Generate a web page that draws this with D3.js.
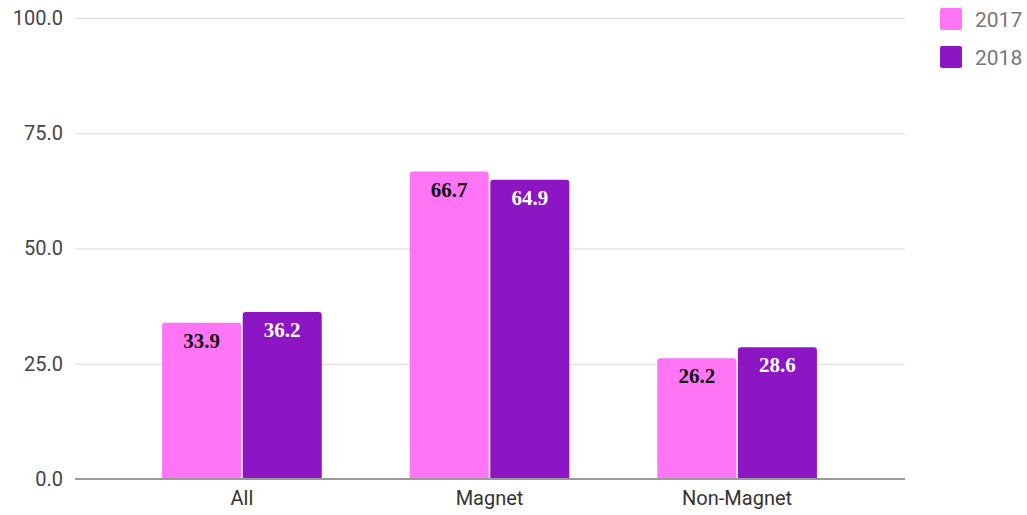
<!DOCTYPE html>
<html>
<head>
<meta charset="utf-8">
<script src="https://cdn.jsdelivr.net/npm/d3@7"></script>
<style>
  body { margin: 0; background: #fff; }
  svg { display: block; font-family: Roboto, 'Noto Sans', sans-serif; }
</style>
</head>
<body>
<div id="chart"></div>
<script>
const categories = ['All', 'Magnet', 'Non-Magnet']
const seriesNames = ['2017', '2018']
const values2017 = [33.9, 66.7, 26.2]
const values2018 = [36.2, 64.9, 28.6]
const yTicks = [0, 25, 50, 75, 100]

const width = 1027
const height = 515
const colors = { '2017': '#ff75f6', '2018': '#8c15c4' }
const labelColors = { '2017': '#111', '2018': '#fff' }

let svg = d3.select('#chart')
            .append('svg')
            .attr('width', width)
            .attr('height', height)

// Scales
let yScale = d3.scaleLinear()
    .domain([0, 100])
    .range([479, 18])

let xScale = d3.scaleBand()
    .domain(categories)
    .range([118, 861])
    .paddingInner(0.355)
    .paddingOuter(0.178)

let innerScale = d3.scaleBand()
    .domain(seriesNames)
    .range([0, xScale.bandwidth()])
    .paddingInner(0.02)

// Gridlines + y labels
let yAxis = d3.axisLeft(yScale)
    .tickValues(yTicks)
    .tickSize(-(905 - 75))
    .tickPadding(12)
    .tickFormat(d3.format('.1f'))

let yg = svg.append('g')
    .attr('transform', 'translate(75,0)')
    .call(yAxis)
yg.select('.domain').remove()
yg.selectAll('.tick line').attr('stroke', '#d9d9d9').attr('stroke-width', 1.2)
yg.selectAll('.tick text')
    .attr('fill', '#444')
    .attr('font-size', '20px')
    .attr('font-family', 'Roboto, sans-serif')

// Bars
let data = []
categories.forEach((c, i) => {
    data.push({ cat: c, series: '2017', value: values2017[i] })
    data.push({ cat: c, series: '2018', value: values2018[i] })
})

const r = 3
const barPath = (d) => {
    let x0 = xScale(d.cat) + innerScale(d.series)
    let w = innerScale.bandwidth()
    let y0 = yScale(d.value)
    let y1 = yScale(0)
    return `M${x0},${y1} V${y0 + r} Q${x0},${y0} ${x0 + r},${y0} H${x0 + w - r} Q${x0 + w},${y0} ${x0 + w},${y0 + r} V${y1} Z`
}

svg.append('g').selectAll('path')
    .data(data)
    .enter()
    .append('path')
    .attr('d', barPath)
    .attr('fill', (d) => colors[d.series])

// Value labels
svg.append('g').selectAll('text')
    .data(data)
    .enter()
    .append('text')
    .attr('x', (d) => xScale(d.cat) + innerScale(d.series) + innerScale.bandwidth() / 2)
    .attr('y', (d) => yScale(d.value) + 25)
    .attr('text-anchor', 'middle')
    .attr('font-family', "'Liberation Serif', 'DejaVu Serif', serif")
    .attr('font-weight', 'bold')
    .attr('font-size', '21px')
    .attr('fill', (d) => labelColors[d.series])
    .text((d) => d.value.toFixed(1))

// Baseline
svg.append('line')
    .attr('x1', 75).attr('x2', 905)
    .attr('y1', yScale(0)).attr('y2', yScale(0))
    .attr('stroke', '#999')
    .attr('stroke-width', 2)

// x labels
let xAxis = d3.axisBottom(xScale).tickSize(0).tickPadding(12)
let xg = svg.append('g')
    .attr('transform', 'translate(0,' + yScale(0) + ')')
    .call(xAxis)
xg.select('.domain').remove()
xg.selectAll('.tick text')
    .attr('fill', '#333')
    .attr('font-size', '20px')
    .attr('font-family', 'Roboto, sans-serif')

// Legend
let legend = svg.append('g').selectAll('g')
    .data(seriesNames)
    .enter()
    .append('g')
    .attr('transform', (d, i) => 'translate(940,' + (8 + i * 38) + ')')

legend.append('rect')
    .attr('width', 22)
    .attr('height', 22)
    .attr('rx', 2)
    .attr('fill', (d) => colors[d])

legend.append('text')
    .attr('x', 35)
    .attr('y', 11)
    .attr('dy', '0.36em')
    .attr('fill', '#777')
    .attr('font-size', '21px')
    .attr('font-family', 'Roboto, sans-serif')
    .text((d) => d)
</script>
</body>
</html>
